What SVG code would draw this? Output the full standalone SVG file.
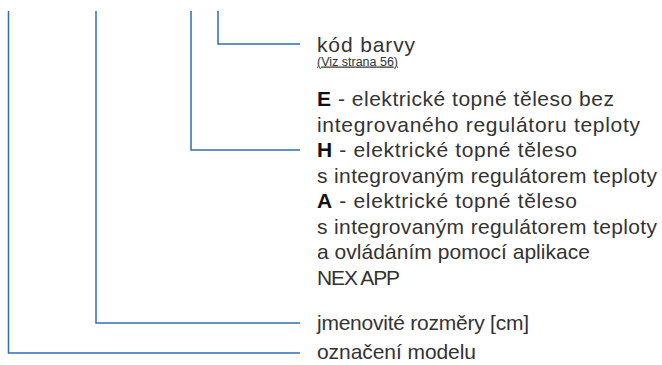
<svg xmlns="http://www.w3.org/2000/svg" width="662" height="365" viewBox="0 0 662 365">
<style>
.c{fill:none;stroke:#2f6db5;stroke-width:1.5}
.t{font-family:"Liberation Sans",Arial,sans-serif;font-size:21px;fill:#333}
.s{font-family:"Liberation Sans",Arial,sans-serif;font-size:12.5px;fill:#333;text-decoration:underline}
.b{font-weight:bold;fill:#111}
</style>
<rect width="662" height="365" fill="#fff"/>
<g id="connectors">
<path class="c" d="M8.5 11V353H300"/>
<path class="c" d="M96 11V323H300"/>
<path class="c" d="M191 11V150H300"/>
<path class="c" d="M218 11V44H300"/>
</g>
<g id="kod-barvy">
<text class="t" x="317" y="51.5" textLength="98">kód barvy</text>
<text class="s" x="317" y="65.5" textLength="81">(Viz strana 56)</text>
</g>
<g id="typ">
<text class="t" x="317" y="106" textLength="297"><tspan class="b">E</tspan> - elektrické topné těleso bez</text>
<text class="t" x="317" y="131.5" textLength="323">integrovaného regulátoru teploty</text>
<text class="t" x="317" y="157" textLength="260"><tspan class="b">H</tspan> - elektrické topné těleso</text>
<text class="t" x="317" y="182.5" textLength="340">s integrovaným regulátorem teploty</text>
<text class="t" x="317" y="208" textLength="260"><tspan class="b">A</tspan> - elektrické topné těleso</text>
<text class="t" x="317" y="233.5" textLength="340">s integrovaným regulátorem teploty</text>
<text class="t" x="317" y="259" textLength="273">a ovládáním pomocí aplikace</text>
<text class="t" x="317" y="284.5" textLength="83">NEX APP</text>
</g>
<g id="rozmery">
<text class="t" x="317" y="329.5" textLength="212">jmenovité rozměry [cm]</text>
</g>
<g id="model">
<text class="t" x="317" y="359" textLength="159">označení modelu</text>
</g>
</svg>
